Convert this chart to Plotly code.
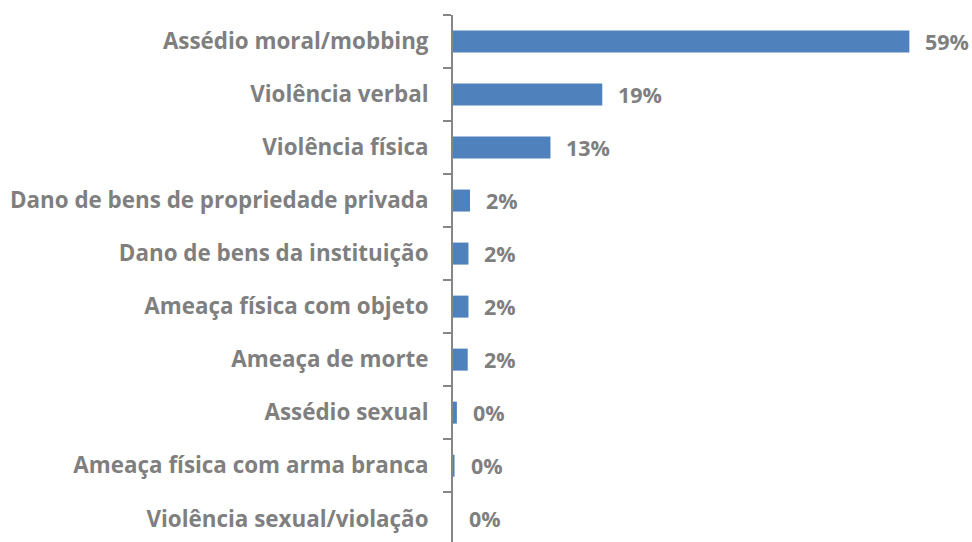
import plotly.graph_objects as go

categories = [
    "Assédio moral/mobbing",
    "Violência verbal",
    "Violência física",
    "Dano de bens de propriedade privada",
    "Dano de bens da instituição",
    "Ameaça física com objeto",
    "Ameaça de morte",
    "Assédio sexual",
    "Ameaça física com arma branca",
    "Violência sexual/violação",
]
values = [59.0, 19.3, 12.6, 2.2, 2.0, 2.0, 1.9, 0.5, 0.2, 0.0]
labels = ["59%", "19%", "13%", "2%", "2%", "2%", "2%", "0%", "0%", "0%"]

GRAY = "#7f7f7f"
FONT = "Open Sans"

fig = go.Figure()
fig.add_trace(go.Bar(
    y=categories, x=values, orientation="h",
    marker=dict(color="#4f81bd", line=dict(width=0)),
    hoverinfo="skip",
))

for c, v, t in zip(categories, values, labels):
    fig.add_annotation(
        x=v, y=c, text=t, showarrow=False, xanchor="left", yanchor="middle",
        xshift=14, font=dict(family=FONT, size=21.5, color=GRAY, weight="bold"),
    )

fig.update_layout(
    width=972, height=542,
    margin=dict(l=453, r=0, t=15, b=0),
    paper_bgcolor="white", plot_bgcolor="white",
    bargap=0.585,
    showlegend=False,
    xaxis=dict(range=[0, 67.1], visible=False, fixedrange=True),
    yaxis=dict(
        type="category",
        range=[9.44, -0.5],
        automargin=False,
        fixedrange=True,
        showline=True, linecolor="#868686", linewidth=2,
        ticks="outside", ticklen=8, tickcolor="#868686", tickwidth=2,
        tickson="boundaries",
        showgrid=False, zeroline=False,
        ticklabelstandoff=18,
        tickfont=dict(family=FONT, size=22.4, color=GRAY, weight="bold"),
    ),
)

fig.write_html(
    "out.html",
    config={"displayModeBar": False, "staticPlot": True},
    post_script="document.body.style.margin='0px';document.body.style.overflow='hidden';",
)
